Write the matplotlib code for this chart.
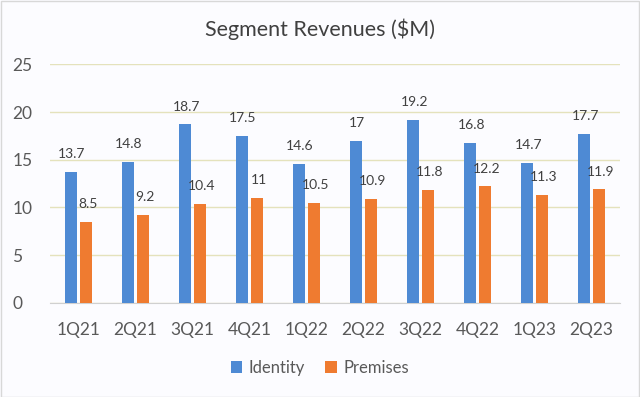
import matplotlib
matplotlib.use("Agg")
import matplotlib.pyplot as plt
import numpy as np
from matplotlib.patches import Patch

categories = ["1Q21", "2Q21", "3Q21", "4Q21", "1Q22", "2Q22", "3Q22", "4Q22", "1Q23", "2Q23"]
identity = [13.7, 14.8, 18.7, 17.5, 14.6, 17, 19.2, 16.8, 14.7, 17.7]
premises = [8.5, 9.2, 10.4, 11, 10.5, 10.9, 11.8, 12.2, 11.3, 11.9]
yticks = [0, 5, 10, 15, 20, 25]

plt.rcParams['font.family'] = ['Lato', 'DejaVu Sans']

blue = "#4E8AD4"
orange = "#EF7B30"
bg = "#FCFCFF"

fig = plt.figure(figsize=(6.4, 3.97), dpi=100, facecolor=bg)
ax = fig.add_axes([0.078, 0.237, 0.891, 0.601], facecolor=bg)

x = np.arange(len(categories))
w = 0.21
off = 0.137
b1 = ax.bar(x - off, identity, w, color=blue, label="Identity", zorder=3)
b2 = ax.bar(x + off, premises, w, color=orange, label="Premises", zorder=3)

def fmt(v):
    return f"{v:g}"

for rects, vals in ((b1, identity), (b2, premises)):
    for r, v in zip(rects, vals):
        ax.annotate(fmt(v), (r.get_x() + r.get_width() / 2, v), xytext=(1, 8.5),
                    textcoords="offset points", ha="center", va="bottom",
                    fontsize=10, color="#404040", zorder=4)

ax.set_xlim(-0.5, len(categories) - 0.5)
ax.set_ylim(0, 25)
ax.set_yticks(yticks)
ax.set_xticks(x)
ax.set_xticklabels(categories)
ax.tick_params(axis='both', length=0, labelsize=12.5, colors="#595959")
ax.tick_params(axis='x', pad=14)
for lab in ax.get_yticklabels():
    lab.set_horizontalalignment('left')
ax.yaxis.set_tick_params(pad=27)

ax.grid(axis='y', color="#E4E2BC", linewidth=1, zorder=0)
for s in ("top", "right", "left"):
    ax.spines[s].set_visible(False)
ax.spines["bottom"].set_color("#D0D0D0")
ax.spines["bottom"].set_zorder(2)

fig.text(0.5, 0.927, "Segment Revenues ($M)", ha="center", va="center",
         fontsize=15.5, color="#404040")

handles = [Patch(facecolor=blue, label="Identity"), Patch(facecolor=orange, label="Premises")]
fig.legend(handles=handles, loc="center", bbox_to_anchor=(0.5, 0.073), ncol=2,
           frameon=False, fontsize=12, labelcolor="#595959",
           handlelength=0.7, handleheight=0.7, handletextpad=0.4, columnspacing=1.2)

border = plt.Rectangle((0.001, 0.001), 0.998, 0.997, transform=fig.transFigure,
                       fill=False, edgecolor="#D8D8D8", linewidth=1)
fig.patches.append(border)

fig.savefig("out.png", dpi=100, facecolor=bg)
